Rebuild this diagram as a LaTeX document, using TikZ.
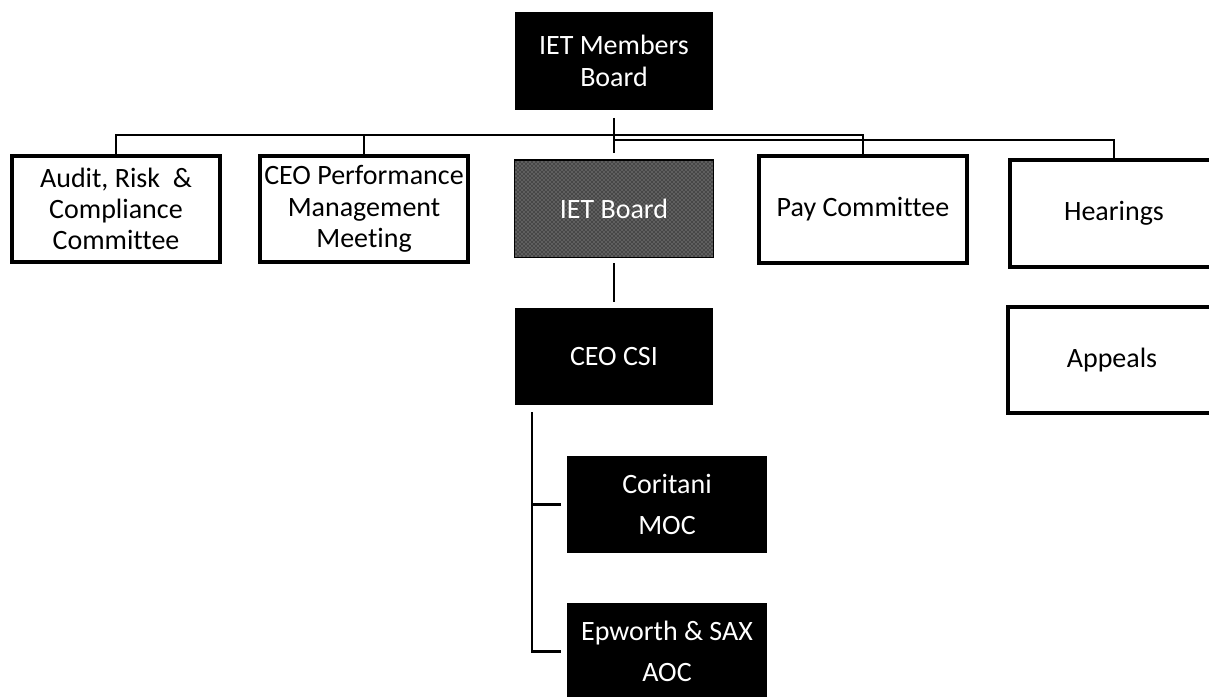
\documentclass[tikz,border=0pt]{standalone}
\usepackage{fontspec}
\setmainfont{Carlito}[Ligatures=NoCommon]
\usetikzlibrary{patterns}
\newcommand{\boxfont}{\fontsize{21}{23.5}\selectfont}
\newcommand{\tallfont}{\fontsize{21}{31}\selectfont}
\begin{document}
\begin{tikzpicture}[x=0.75pt,y=-0.75pt,
	wbox/.style={draw, line width=3pt, fill=white, minimum width=156pt, minimum height=80pt, inner sep=0pt, align=center, font=\boxfont},
	bbox/.style={fill=black, text=white, minimum width=149pt, minimum height=73pt, inner sep=0pt, align=center, font=\boxfont}]
	
	\useasboundingbox (0,0) rectangle (1209,696);
	
     \node[bbox] (members) at (614,61) {IET Members\\Board};
      \node[wbox] (audit) at (116,209) {Audit, Risk~ \&\\Compliance\\Committee};
       \node[wbox] (ceoperf) at (364,209) {CEO Performance\\Management\\Meeting};
        \node[bbox, draw, line width=1pt, preaction={fill=black!72}, pattern=crosshatch dots, pattern color=white!70!black] (ietboard) at (614,208.5) {IET Board};
         \node[wbox] (pay) at (863,209.5) {Pay Committee};
          \node[wbox] (hearings) at (1114,213.5) {Hearings};
           \node[wbox] (appeals) at (1112,360) {Appeals};
            \node[bbox] (ceocsi) at (614,356.5) {CEO CSI};
             \node[bbox, minimum width=150pt, font=\tallfont] (coritani) at (667,504.5) {Coritani\\MOC};
              \node[bbox, minimum width=150pt, font=\tallfont] (epworth) at (667,651.5) {Epworth \& SAX\\AOC};
              
      \coordinate (bus) at (0,135);
      \coordinate (bus2) at (0,140);
      \coordinate (csibranch) at (532,412);
      
   
   \tikzset{every path/.style={line width=1.1pt, black}}
    \draw (audit.north) -- (audit.north |- bus) -- (pay.north |- bus) -- (pay.north);
    \draw (ceoperf.north) -- (ceoperf.north |- bus);
    
   \tikzset{every path/.style={line width=2.2pt, black}}
    \draw (members.south |- bus2) -- (hearings.north |- bus2) -- (hearings.north);
    
   \tikzset{every path/.style={line width=1.5pt, black}}
    \draw[shorten <=6pt, shorten >=5pt] (members) -- (ietboard);
    \draw[shorten <=4pt, shorten >=4pt] (ietboard) -- (ceocsi);
    
   \tikzset{every path/.style={line width=1.8pt, black}}
    \draw (csibranch) |- ([xshift=-4pt]epworth.west);
    \draw (csibranch |- coritani.west) -- ([xshift=-4pt]coritani.west);
    
\end{tikzpicture}
\end{document}
